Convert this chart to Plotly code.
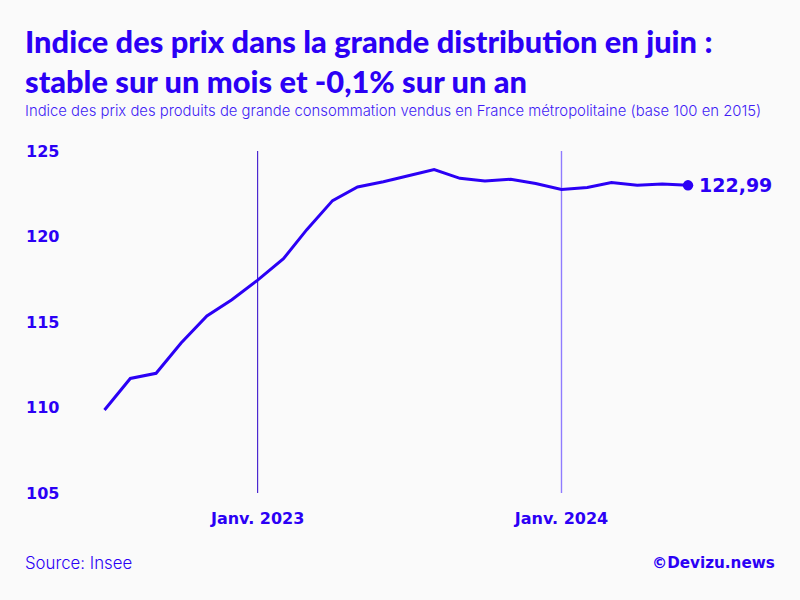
import plotly.graph_objects as go

months = ["2022-07-01","2022-08-01","2022-09-01","2022-10-01","2022-11-01","2022-12-01",
          "2023-01-01","2023-02-01","2023-03-01","2023-04-01","2023-05-01","2023-06-01",
          "2023-07-01","2023-08-01","2023-09-01","2023-10-01","2023-11-01","2023-12-01",
          "2024-01-01","2024-02-01","2024-03-01","2024-04-01","2024-05-01","2024-06-01"]
values = [109.85,111.7,112.0,113.77,115.35,116.3,
          117.45,118.7,120.4,122.1,122.9,123.2,
          123.55,123.92,123.4,123.25,123.35,123.1,
          122.75,122.87,123.15,123.0,123.07,122.99]
y_ticks = [105,110,115,120,125]
x_ticks = ["2023-01-01","2024-01-01"]
x_labels = ["Janv. 2023","Janv. 2024"]
last_label = "122,99"

BLUE = "#2b00f5"
BG = "#fafafa"
W, H = 800, 600
HEAD = "Lato"
WIDE = "DejaVu Sans"
BODY = "Inter"

fig = go.Figure()
fig.add_trace(go.Scatter(x=months, y=values, mode="lines",
                         line=dict(color=BLUE, width=3), hoverinfo="x+y", showlegend=False))
fig.add_trace(go.Scatter(x=months[-1:], y=values[-1:], mode="markers",
                         marker=dict(color=BLUE, size=10.5), cliponaxis=False, showlegend=False))

fig.add_shape(type="line", x0=x_ticks[0], x1=x_ticks[0], y0=0, y1=1, yref="paper",
              line=dict(color="#2b00c8", width=1), layer="below")
fig.add_shape(type="line", x0=x_ticks[1], x1=x_ticks[1], y0=0, y1=1, yref="paper",
              line=dict(color="#8f7bff", width=1.4), layer="below")

fig.add_annotation(x=months[-1], y=values[-1], text=f"<b>{last_label}</b>", showarrow=False,
                   xanchor="left", yanchor="middle", xshift=9,
                   font=dict(family=WIDE, size=19, color=BLUE))

def text(x, y, s, size, family, anchor="left", color=BLUE, weight=None):
    fig.add_annotation(xref="paper", yref="paper", x=(x-25)/750, y=(493-y)/342, text=s,
                       showarrow=False, xanchor=anchor, yanchor="middle",
                       font=dict(family=family, size=size, color=color, weight=weight))

text(23, 111, "Indice des prix des produits de grande consommation vendus en France métropolitaine (base 100 en 2015)",
     14.85, BODY, color="#3f1cf5", weight=300)
text(23, 563, "Source: Insee", 16.8, BODY, weight=300)
text(777, 563, "<b>©Devizu.news</b>", 15.2, WIDE, anchor="right")

fig.update_layout(
    width=W, height=H, autosize=False,
    margin=dict(l=25, r=25, t=151, b=107),
    paper_bgcolor=BG, plot_bgcolor=BG,
    title=dict(text="Indice des prix dans la grande distribution en juin :<br>stable sur un mois et -0,1% sur un an",
               x=25/W, xanchor="left", y=1-53/H, yanchor="middle",
               font=dict(family=HEAD, size=30.8, color=BLUE, weight=900)),
    xaxis=dict(type="date", range=["2022-03-27 12:00","2024-09-13 12:00"], tickmode="array",
               tickvals=x_ticks, ticktext=[f"<b>{t}</b>" for t in x_labels],
               showgrid=False, zeroline=False, showline=False,
               ticks="outside", ticklen=11, tickcolor="rgba(0,0,0,0)",
               tickfont=dict(family=WIDE, size=16, color=BLUE)),
    yaxis=dict(range=[105,125], tickmode="array", tickvals=y_ticks,
               ticktext=[f"<b>{t}</b>" for t in y_ticks], ticklabelposition="inside",
               ticklabeloverflow="allow", ticklabelstandoff=-2,
               showgrid=False, zeroline=False, showline=False, ticks="",
               tickfont=dict(family=WIDE, size=16, color=BLUE)),
    showlegend=False,
)
fig.write_html("out.html", config={"displayModeBar": False},
               post_script="document.body.style.margin='0';document.documentElement.style.background='#fafafa';")
